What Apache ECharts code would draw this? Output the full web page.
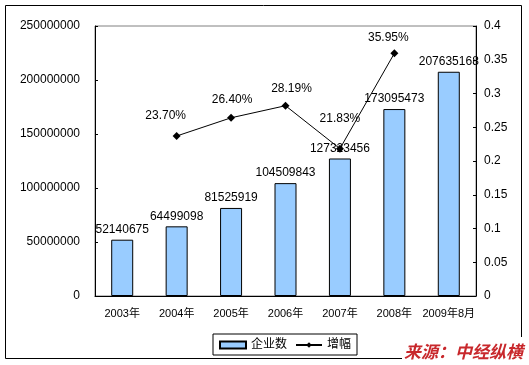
<!DOCTYPE html>
<html><head><meta charset="utf-8">
<script src="https://cdn.jsdelivr.net/npm/echarts@6/dist/echarts.min.js"></script>
<style>html,body{margin:0;padding:0;background:#fff}#c{width:529px;height:365px}</style>
</head><body><div id="c"></div>
<script>
const categories = ['2003年','2004年','2005年','2006年','2007年','2008年','2009年8月'];
const companies = [52140675, 64499098, 81525919, 104509843, 127323456, 173095473, 207635168];
const growth = [null, 0.2370, 0.2640, 0.2819, 0.2183, 0.3595, null];
const leftTicks = {min: 0, max: 250000000, interval: 50000000};
const rightTicks = {min: 0, max: 0.4, interval: 0.05};

const FONT = '"Liberation Sans", Arial, "Noto Sans CJK SC", sans-serif';
const labelOffsets = [null, [-11, -4], [1, -2], [6, -1], [0, -14], [-6, 0], null];

const chart = echarts.init(document.getElementById('c'), null, {renderer: 'canvas'});
chart.setOption({
  animation: false,
  backgroundColor: '#fff',
  textStyle: {fontFamily: FONT},
  grid: {left: 95, right: 53, top: 26, bottom: 69, show: true, borderColor: '#808080', borderWidth: 1},
  xAxis: {
    type: 'category', data: categories,
    axisLine: {lineStyle: {color: '#000', width: 1}},
    axisTick: {inside: true, length: 3, lineStyle: {color: '#000'}},
    axisLabel: {color: '#000', fontSize: 11, margin: 12, fontFamily: FONT, interval: 0}
  },
  yAxis: [{
    type: 'value', min: leftTicks.min, max: leftTicks.max, interval: leftTicks.interval,
    axisLine: {show: true, lineStyle: {color: '#000'}},
    axisTick: {show: true, inside: true, length: 3, lineStyle: {color: '#000'}},
    splitLine: {show: false},
    axisLabel: {color: '#000', fontSize: 12, margin: 15, fontFamily: FONT, formatter: v => String(v)}
  }, {
    type: 'value', min: rightTicks.min, max: rightTicks.max, interval: rightTicks.interval,
    position: 'right',
    axisLine: {show: true, lineStyle: {color: '#000'}},
    axisTick: {show: true, inside: true, length: 3, lineStyle: {color: '#000'}},
    splitLine: {show: false},
    axisLabel: {color: '#000', fontSize: 12, margin: 8, fontFamily: FONT,
      formatter: v => String(+v.toFixed(2))}
  }],
  legend: {
    left: 213, top: 334, itemWidth: 26, itemHeight: 7, itemGap: 8,
    padding: [5, 6, 4, 6],
    borderColor: '#000', borderWidth: 1,
    textStyle: {color: '#000', fontSize: 12, fontFamily: FONT},
    data: [{name: '企业数', icon: 'rect'}, {name: '增幅'}]
  },
  series: [{
    name: '企业数', type: 'bar', data: companies, barWidth: 22, yAxisIndex: 0,
    itemStyle: {color: '#99CCFF', borderColor: '#000', borderWidth: 1},
    label: {show: true, position: 'top', distance: 4, color: '#000', fontSize: 12, fontFamily: FONT}
  }, {
    name: '增幅', type: 'line', yAxisIndex: 1,
    data: growth.map((v, i) => v == null ? null : {
      value: v,
      label: {offset: labelOffsets[i]}
    }),
    symbol: 'diamond', symbolSize: 8,
    lineStyle: {color: '#000', width: 1},
    itemStyle: {color: '#000'},
    label: {show: true, position: 'top', distance: 6, color: '#000', fontSize: 12, fontFamily: FONT,
      formatter: p => (p.value * 100).toFixed(2) + '%'}
  }],
  graphic: [{
    type: 'polyline', silent: true,
    shape: {points: [[402, 358.5], [5.5, 358.5], [5.5, 5.5], [521.5, 5.5], [521.5, 337]]},
    style: {stroke: '#000', lineWidth: 1, fill: null}
  }, {
    type: 'text', right: 6, top: 343,
    style: {text: '来源：中经纵横', fill: '#C8282C', font: 'italic bold 17px "Noto Sans CJK SC", sans-serif'}
  }]
});
</script></body></html>
